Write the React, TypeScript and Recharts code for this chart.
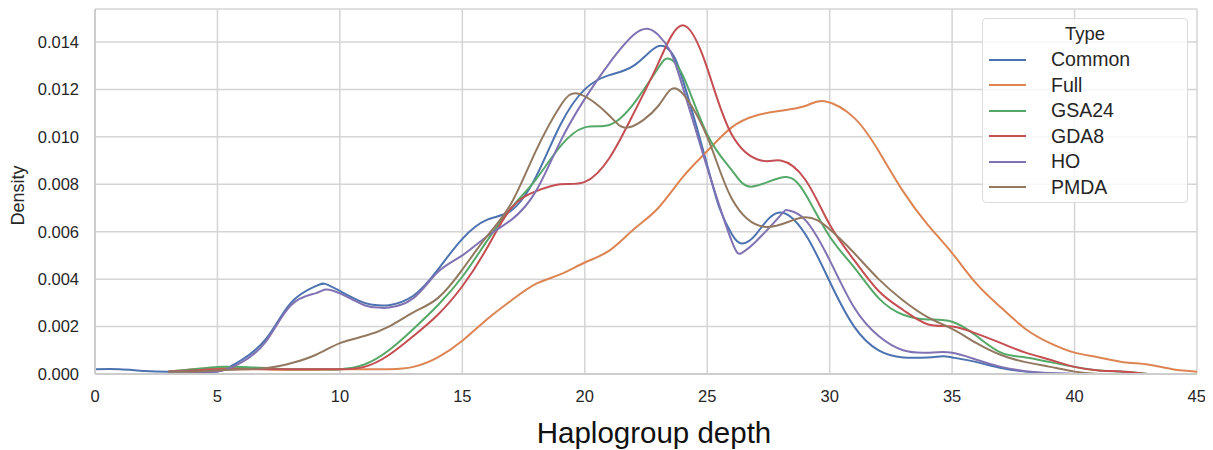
import React from 'react';
import { LineChart, Line, XAxis, YAxis, CartesianGrid, Legend } from 'recharts';

const commonX = [0, 1, 2, 3, 4, 5, 5.5, 6, 7, 8, 9, 9.4, 10, 11, 11.6, 12, 13, 14, 15, 16, 17, 18, 19, 20, 21, 22, 22.95, 23.5, 24, 25, 25.5, 26, 26.4, 27, 27.9, 29, 30, 31, 32, 33, 34, 34.6, 35, 36, 37, 38, 39, 40];
const commonY = [0.0002, 0.0002, 0.00013, 0.0001, 0.0001, 0.0001, 0.0003, 0.0006, 0.0015, 0.003, 0.0037, 0.0038, 0.0035, 0.003, 0.0029, 0.0029, 0.0033, 0.0044, 0.0057, 0.0065, 0.0069, 0.0083, 0.0105, 0.012, 0.0126, 0.013, 0.0138, 0.0136, 0.0124, 0.0088, 0.007, 0.0059, 0.0055, 0.0059, 0.0068, 0.0059, 0.0039, 0.002, 0.001, 0.0007, 0.0007, 0.00075, 0.0007, 0.0005, 0.00025, 0.0001, 0.00003, 0];

const fullX = [3, 4, 5, 6, 7, 8, 9, 10, 11, 12, 13, 14, 15, 16, 17, 18, 19, 20, 21, 22, 23, 24, 25, 26, 27, 28, 29, 29.8, 31, 32, 33, 34, 35, 36, 37, 38, 39, 40, 41, 42, 43, 44, 45];
const fullY = [0.0001, 0.0002, 0.00025, 0.00025, 0.0002, 0.00018, 0.00018, 0.0002, 0.0002, 0.0002, 0.0003, 0.0007, 0.0014, 0.0023, 0.0031, 0.0038, 0.0042, 0.0047, 0.0052, 0.0061, 0.007, 0.0083, 0.0094, 0.0104, 0.0109, 0.0111, 0.0113, 0.0115, 0.0108, 0.0094, 0.0077, 0.0063, 0.0051, 0.0038, 0.0028, 0.0019, 0.0013, 0.0009, 0.0007, 0.0005, 0.0004, 0.0002, 0.0001];

const gsaX = [3, 4, 5, 5.5, 6, 7, 8, 9, 10, 11, 12, 13, 14, 15, 16, 17, 18, 19, 20, 21, 22, 23, 23.4, 24, 25, 26, 26.8, 28.1, 29, 30, 31, 32, 33, 34, 35, 36, 37, 38, 39, 40, 41, 42, 43];
const gsaY = [0.0001, 0.0002, 0.0003, 0.0003, 0.0003, 0.00025, 0.0002, 0.0002, 0.0002, 0.0004, 0.001, 0.0019, 0.0029, 0.0041, 0.0056, 0.007, 0.0082, 0.0096, 0.0104, 0.0105, 0.0114, 0.0129, 0.0133, 0.0126, 0.0101, 0.0086, 0.0079, 0.0083, 0.0076, 0.0058, 0.0045, 0.0032, 0.0025, 0.0023, 0.0022, 0.0016, 0.0009, 0.0007, 0.0005, 0.0003, 0.00015, 0.0001, 0];

const gdaX = [3, 4, 5, 6, 7, 8, 9, 10, 11, 12, 13, 14, 15, 16, 17, 18, 19, 20, 21, 22, 23, 24, 25, 26, 27.2, 28, 29, 30, 31, 32, 33, 34, 35, 36, 37, 38, 39, 40, 41, 42, 43];
const gdaY = [0.0001, 0.00015, 0.0002, 0.0002, 0.0002, 0.0002, 0.0002, 0.0002, 0.0003, 0.0008, 0.0016, 0.0025, 0.0037, 0.0053, 0.007, 0.0077, 0.008, 0.0081, 0.0091, 0.011, 0.0131, 0.0147, 0.0129, 0.0101, 0.009, 0.009, 0.0082, 0.0063, 0.0048, 0.0035, 0.0027, 0.0021, 0.002, 0.0017, 0.0013, 0.0009, 0.0006, 0.0003, 0.00015, 0.0001, 0];

const hoX = [3, 4, 5, 6, 7, 8, 9, 9.4, 10, 11, 11.6, 12, 13, 14, 15, 16, 17, 18, 19, 20, 21, 22, 22.6, 23, 23.5, 24, 25, 26, 26.4, 27, 28, 28.3, 29, 30, 31, 32, 33, 34, 35, 36, 37, 38, 39, 40];
const hoY = [0.0001, 0.0001, 0.0001, 0.0005, 0.0014, 0.0029, 0.0034, 0.00356, 0.0034, 0.0029, 0.0028, 0.0028, 0.0032, 0.0043, 0.005, 0.0058, 0.0065, 0.0077, 0.0098, 0.0116, 0.0131, 0.0143, 0.01455, 0.0143, 0.0136, 0.0121, 0.0087, 0.0056, 0.0051, 0.0056, 0.0067, 0.0069, 0.0065, 0.0048, 0.0028, 0.0016, 0.001, 0.0009, 0.0009, 0.0006, 0.0003, 0.00012, 0.00004, 0];

const pmdaX = [3, 4, 5, 6, 7, 8, 9, 10, 11, 12, 13, 14, 15, 16, 17, 18, 19, 19.8, 21, 21.8, 23, 23.8, 25, 26, 27.4, 28.9, 30, 31, 32, 33, 34, 35, 36, 37, 38, 39, 40, 41];
const pmdaY = [0.0001, 0.0001, 0.00015, 0.0002, 0.00025, 0.00045, 0.0008, 0.0013, 0.0016, 0.002, 0.0026, 0.0032, 0.0044, 0.0058, 0.0072, 0.0094, 0.0113, 0.0118, 0.0109, 0.0104, 0.0113, 0.012, 0.01, 0.0074, 0.0062, 0.0066, 0.0061, 0.0051, 0.004, 0.0031, 0.0024, 0.0019, 0.0013, 0.0008, 0.0005, 0.0003, 0.0001, 0];

const seriesNames = ['Common', 'Full', 'GSA24', 'GDA8', 'HO', 'PMDA'];
const seriesColors = ['#4c72b0', '#dd8452', '#55a868', '#c44e52', '#8172b3', '#937860'];
const seriesXs = [commonX, fullX, gsaX, gdaX, hoX, pmdaX];
const seriesYs = [commonY, fullY, gsaY, gdaY, hoY, pmdaY];

const xTicks = [0, 5, 10, 15, 20, 25, 30, 35, 40, 45];
const yTicks = [0, 0.002, 0.004, 0.006, 0.008, 0.01, 0.012, 0.014];
const yMax = 0.01539;

const FONT = '"Liberation Sans", Arial, sans-serif';
const TEXT = '#262626';
const GRID = '#d4d4d4';

const toRows = (xs: number[], ys: number[]) => xs.map((x, i) => ({ x, y: ys[i] }));

const yLabel = (props: any) => {
  const vb = props.viewBox || { x: 0, y: 0, height: 366 };
  const cx = vb.x + 10;
  const cy = vb.y + vb.height / 2 + 4;
  return (
    <text x={cx} y={cy} transform={`rotate(-90, ${cx}, ${cy})`} textAnchor="middle" dominantBaseline="central" fill={TEXT} fontSize={18} fontFamily={FONT}>
      Density
    </text>
  );
};

const xLabel = (props: any) => {
  const vb = props.viewBox || { x: 87, y: 366, width: 1102 };
  return (
    <text x={vb.x + vb.width / 2 + 8} y={vb.y + 69} textAnchor="middle" fill="#111" fontSize={29.5} fontFamily={FONT}>
      Haplogroup depth
    </text>
  );
};

const legendContent = () => (
  <div style={{ width: 206, height: 185, boxSizing: 'border-box', border: '1px solid #dcdcdc', borderRadius: 4, background: 'rgba(255,255,255,0.8)', fontFamily: FONT, color: TEXT }}>
    <div style={{ marginTop: 2, height: 26, lineHeight: '26px', textAlign: 'center', fontSize: 18.5 }}>Type</div>
    {seriesNames.map((name, i) => (
      <div key={name} style={{ height: 25.5, display: 'flex', alignItems: 'center' }}>
        <div style={{ marginLeft: 6, width: 37, height: 0, borderTop: `2.5px solid ${seriesColors[i]}` }} />
        <div style={{ marginLeft: 25, fontSize: 19.5, lineHeight: '25px' }}>{name}</div>
      </div>
    ))}
  </div>
);

export default function App() {
  return (
    <LineChart width={1197} height={442} margin={{ top: 1, right: 8, bottom: 0, left: 0 }}>
      <CartesianGrid stroke={GRID} strokeWidth={1.5} />
      <XAxis
        dataKey="x"
        type="number"
        domain={[0, 45]}
        ticks={xTicks}
        allowDataOverflow
        height={76}
        tickSize={0}
        tickMargin={16}
        axisLine={{ stroke: '#cccccc', strokeWidth: 2 }}
        tick={{ fill: TEXT, fontSize: 16.5, fontFamily: FONT }}
        label={xLabel}
      />
      <XAxis xAxisId="top" orientation="top" type="number" domain={[0, 45]} height={0} tick={false} tickLine={false} axisLine={{ stroke: '#cccccc', strokeWidth: 2 }} />
      <YAxis
        type="number"
        domain={[0, yMax]}
        ticks={yTicks}
        allowDataOverflow
        width={87}
        tickSize={0}
        tickMargin={16}
        axisLine={{ stroke: '#cccccc', strokeWidth: 2 }}
        tick={{ fill: TEXT, fontSize: 16.5, fontFamily: FONT }}
        tickFormatter={(v: number) => v.toFixed(3)}
        label={yLabel}
      />
      <YAxis yAxisId="right" orientation="right" type="number" domain={[0, yMax]} width={0} tick={false} tickLine={false} axisLine={{ stroke: '#cccccc', strokeWidth: 2 }} />
      {seriesNames.map((name, i) => (
        <Line
          key={name}
          name={name}
          data={toRows(seriesXs[i], seriesYs[i])}
          dataKey="y"
          type="natural"
          stroke={seriesColors[i]}
          strokeWidth={2}
          dot={false}
          activeDot={false}
          isAnimationActive={false}
        />
      ))}
      <Legend
        layout="vertical"
        align="center"
        verticalAlign="middle"
        content={legendContent}
        wrapperStyle={{ position: 'absolute', left: 974, top: 10, width: 206, height: 185 }}
      />
    </LineChart>
  );
}
